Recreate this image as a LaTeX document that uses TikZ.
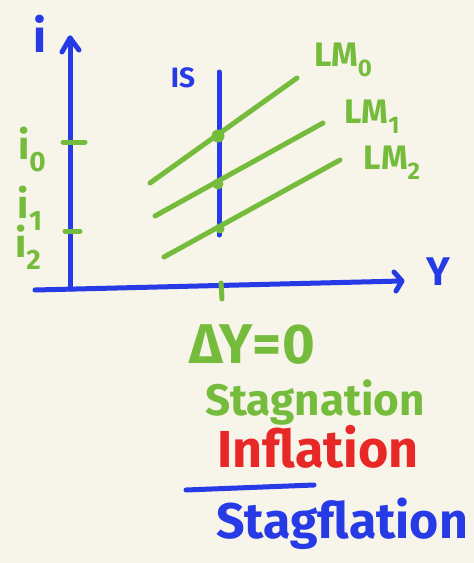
\documentclass[tikz,border=0pt]{standalone}
\usepackage{fontspec}
\setmainfont{Fira Sans}
\definecolor{pen}{RGB}{38,58,230}
\definecolor{lmg}{RGB}{118,188,60}
\definecolor{rd}{RGB}{232,40,38}
\definecolor{paper}{RGB}{247,244,234}
\newcommand{\fs}[1]{\fontsize{#1}{#1}\selectfont}
\newcommand{\subx}[2]{\raisebox{-0.3em}{\fs{#1}#2}}
\begin{document}
\begin{tikzpicture}[x=1pt,y=-1pt,
  axis/.style={draw=pen,line width=5pt,line cap=round,line join=round},
  curve/.style={draw=lmg,line width=5pt,line cap=round},
  tickg/.style={draw=lmg,line width=5pt,line cap=round},
  lbl/.style={inner sep=0pt,anchor=center,font=\bfseries}]
\fill[paper] (0,0) rectangle (474,563);
\useasboundingbox (0,0) rectangle (474,563);
% axes
\coordinate (O) at (70,289);
\coordinate (top) at (70,38);
\coordinate (xl) at (35,290);
\coordinate (right) at (402,281);
\coordinate (ah1) at (62,52);
\coordinate (ah2) at (79,50);
\coordinate (bh1) at (394,272);
\coordinate (bh2) at (396,291);
\draw[axis] (O) -- (top);
\draw[axis] (ah1) -- (top) -- (ah2);
\draw[axis] (xl) -- (right);
\draw[axis] (bh1) -- (right) -- (bh2);
% IS
\coordinate (ist) at (219,72);
\coordinate (isb) at (219,235);
\draw[axis] (ist) -- (isb);
% tick on Y axis
\coordinate (yt1) at (221,283);
\coordinate (yt2) at (222,299);
\draw[tickg] (yt1) -- (yt2);
% LM curves
\coordinate (l0a) at (150,183); \coordinate (l0b) at (297,78);
\coordinate (l1a) at (155,216); \coordinate (l1b) at (323,123);
\coordinate (l2a) at (164,257); \coordinate (l2b) at (340,160);
\draw[curve] (l0a) -- (l0b);
\draw[curve] (l1a) -- (l1b);
\draw[curve] (l2a) -- (l2b);
% intersection dots
\fill[lmg] (218,136) circle (6.5pt);
\fill[lmg] (218,184) circle (5.5pt);
\fill[lmg] (220,229) circle (4.5pt);
% ticks on i axis
\coordinate (t0a) at (63,142); \coordinate (t0b) at (85,142);
\coordinate (t2a) at (65,231); \coordinate (t2b) at (80,231);
\draw[tickg] (t0a) -- (t0b);
\draw[tickg] (t2a) -- (t2b);
% labels
\node[lbl,text=pen] (li) at (40,34) {\fs{46}i};
\node[lbl,text=pen] (lY) at (438,272) {\fs{40}Y};
\node[lbl,text=pen] (lIS) at (183,78) {\fs{28}IS};
\node[lbl,text=lmg] (lm0) at (343,60) {\fs{34}LM\subx{24}{0}};
\node[lbl,text=lmg] (lm1) at (372,117) {\fs{34}LM\subx{24}{1}};
\node[lbl,text=lmg] (lm2) at (392,163) {\fs{34}LM\subx{24}{2}};
\node[lbl,text=lmg] (i0) at (32,150) {\fs{40}i\subx{28}{0}};
\node[lbl,text=lmg] (i1) at (30,208) {\fs{40}i\subx{28}{1}};
\node[lbl,text=lmg] (i2) at (28,247) {\fs{40}i\subx{28}{2}};
\node[lbl,text=lmg] (dY) at (252,345) {\fs{56}ΔY=0};
\node[lbl,text=lmg] (stag) at (315,403) {\fs{44}Stagnation};
\node[lbl,text=rd] (infl) at (318,447) {\fs{52}Inflation};
\coordinate (ba) at (186,490); \coordinate (bb) at (314,485);
\draw[axis] (ba) -- (bb);
\node[lbl,text=pen] (stfl) at (342,524) {\fs{50}Stagflation};
\end{tikzpicture}
\end{document}
